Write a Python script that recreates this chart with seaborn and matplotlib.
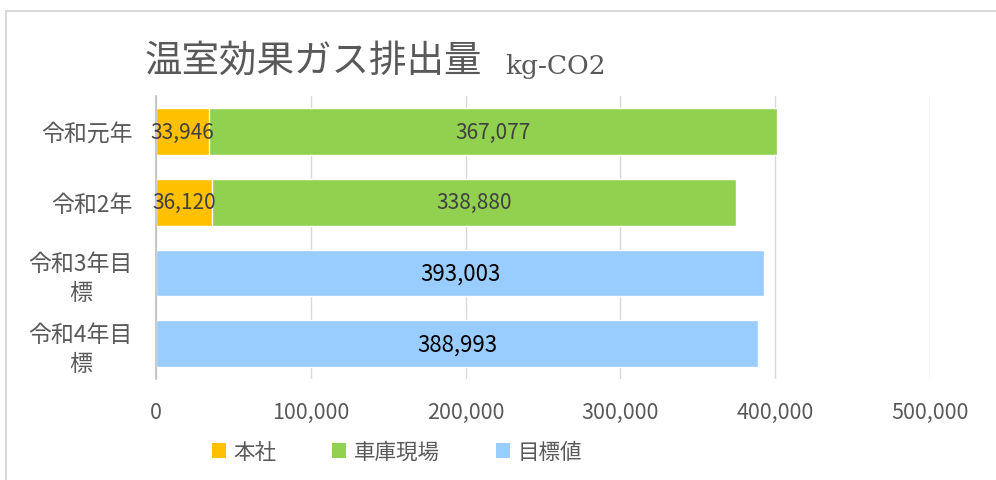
import pandas as pd
import matplotlib.pyplot as plt
import seaborn as sns
from matplotlib.lines import Line2D
from matplotlib.patches import Patch

# data
categories = ['令和元年', '令和2年', '令和3年目\n標', '令和4年目\n標']
honsha = [33946, 36120]          # 本社 (令和元年, 令和2年)
shako = [367077, 338880]         # 車庫現場
target = [393003, 388993]        # 目標値 (令和3年, 令和4年)
series_names = ['本社', '車庫現場', '目標値']
colors = ['#ffc000', '#92d050', '#99ccff']

sns.set_theme(style='white')
plt.rcParams['font.family'] = ['Noto Sans CJK JP', 'DejaVu Sans']

fig = plt.figure(figsize=(9.96, 4.81), dpi=100)
ax = fig.add_axes([0.1566, 0.21, 0.777, 0.588])

# stacked bars: draw total first, then the first segment on top
actual_df = pd.DataFrame({
    'cat': categories[:2],
    'honsha': honsha,
    'total': [a + b for a, b in zip(honsha, shako)],
})
target_df = pd.DataFrame({'cat': categories[2:], 'target': target})

sns.barplot(data=actual_df, y='cat', x='total', order=categories, color=colors[1],
            saturation=1, width=0.66, orient='h', ax=ax, errorbar=None)
sns.barplot(data=actual_df, y='cat', x='honsha', order=categories, color=colors[0],
            saturation=1, width=0.66, orient='h', ax=ax, errorbar=None)
sns.barplot(data=target_df, y='cat', x='target', order=categories, color=colors[2],
            saturation=1, width=0.66, orient='h', ax=ax, errorbar=None)

cont_total, cont_honsha, cont_target = ax.containers[:3]

# labels
for bar, v in zip(cont_honsha, honsha):
    ax.text(bar.get_x() + bar.get_width() / 2, bar.get_y() + bar.get_height() / 2,
            f'{v:,}', ha='center', va='center', fontsize=15, color='#404040')
for bar, h, v in zip(cont_total, honsha, shako):
    ax.text(h + v / 2, bar.get_y() + bar.get_height() / 2,
            f'{v:,}', ha='center', va='center', fontsize=15, color='#404040')
ax.bar_label(cont_target, labels=[f'{v:,}' for v in target], label_type='center',
             fontsize=16, color='black')

ax.set_xlim(0, 500000)
ax.set_ylim(3.5, -0.5)
ax.set_xticks(range(0, 500001, 100000))
ax.set_xticklabels([f'{v:,}' for v in range(0, 500001, 100000)])
ax.xaxis.grid(True, color='#d9d9d9', linewidth=1)
ax.set_axisbelow(True)
ax.set_xlabel('')
ax.set_ylabel('')
for s in ['top', 'right', 'bottom']:
    ax.spines[s].set_visible(False)
ax.spines['left'].set_color('#bfbfbf')
ax.spines['left'].set_linewidth(1.2)
ax.tick_params(axis='x', length=0, pad=16, labelsize=15.5, labelcolor='#595959')
ax.tick_params(axis='y', length=0, pad=17, labelsize=16.5, labelcolor='#595959')
for lbl in ax.get_yticklabels():
    lbl.set_multialignment('center')
    lbl.set_linespacing(1.3)

# title
fig.text(0.145, 0.872, '温室効果ガス排出量', fontsize=27, color='#595959', va='center', ha='left')
fig.text(0.507, 0.862, 'kg-CO2', fontsize=19, color='#595959', va='center', ha='left',
         family=['DejaVu Serif'])

# legend
handles = [Patch(facecolor=c, edgecolor='none') for c in colors]
fig.legend(handles, series_names, loc='center left', bbox_to_anchor=(0.193, 0.058),
           ncol=3, frameon=False, fontsize=15.5, labelcolor='#595959',
           handlelength=0.65, handleheight=0.65, handletextpad=0.35, columnspacing=2.6)

# chart area border (partly cropped)
fig.add_artist(Line2D([0.0065, 0.0065], [0, 0.975], color='#d9d9d9', linewidth=1.5,
                      transform=fig.transFigure))
fig.add_artist(Line2D([0.0065, 1], [0.975, 0.975], color='#d9d9d9', linewidth=1.5,
                      transform=fig.transFigure))

fig.savefig('out.png', dpi=100)
